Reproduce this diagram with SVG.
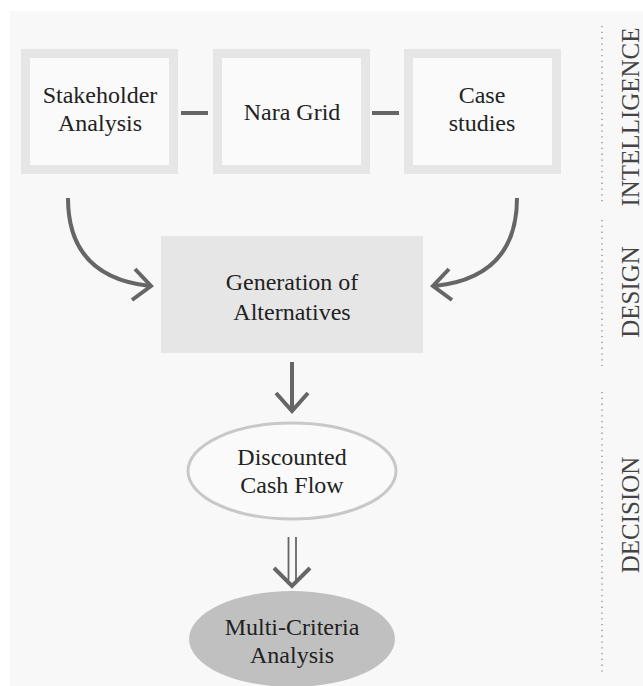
<svg xmlns="http://www.w3.org/2000/svg" width="643" height="686" viewBox="0 0 643 686">
<defs>
<style>
text{font-family:"Liberation Serif","Times New Roman",Times,"DejaVu Serif",serif}
.t{font-size:24px;fill:#222;text-anchor:middle}
.lab{font-size:25px;fill:#444;text-anchor:middle}
.box{fill:#fafafa;stroke:#e6e6e6;stroke-width:9}
.conn{stroke:#666;stroke-width:4;fill:none}
.dot{stroke:#888;stroke-width:1.3;stroke-dasharray:1.3 4.5}
</style>
</defs>
<rect x="0" y="0" width="643" height="686" fill="#ffffff"/>
<rect x="10" y="11" width="633" height="675" fill="#f8f8f8"/>
<g font-family="Liberation Serif, Times New Roman, serif">
<g id="stakeholder">
<rect class="box" x="25.5" y="53.5" width="148" height="116"/>
<text class="t" x="100" y="103" font-family="Liberation Serif">Stakeholder</text>
<text class="t" x="100" y="131" font-family="Liberation Serif">Analysis</text>
</g>
<g id="nara">
<rect class="box" x="217.5" y="53.5" width="148" height="116"/>
<text class="t" x="292" y="120" font-family="Liberation Serif">Nara Grid</text>
</g>
<g id="case">
<rect class="box" x="408.5" y="53.5" width="148" height="116"/>
<text class="t" x="482" y="103" font-family="Liberation Serif">Case</text>
<text class="t" x="482" y="131" font-family="Liberation Serif">studies</text>
</g>
<g id="generation">
<rect x="161" y="236" width="262" height="117" fill="#e6e6e6"/>
<text class="t" x="292" y="290" font-family="Liberation Serif">Generation of</text>
<text class="t" x="292" y="320" font-family="Liberation Serif">Alternatives</text>
</g>
<g id="dcf">
<ellipse cx="292" cy="471" rx="104" ry="48" fill="#fafafa" stroke="#c8c8c8" stroke-width="3"/>
<text class="t" x="292" y="465" font-family="Liberation Serif">Discounted</text>
<text class="t" x="292" y="493" font-family="Liberation Serif">Cash Flow</text>
</g>
<g id="mca">
<ellipse cx="292" cy="639" rx="103" ry="48" fill="#c0c0c0"/>
<text class="t" x="292" y="635" font-family="Liberation Serif">Multi-Criteria</text>
<text class="t" x="292" y="663" font-family="Liberation Serif">Analysis</text>
</g>
</g>
<g id="connectors">
<line class="conn" x1="181" y1="113" x2="208" y2="113"/>
<line class="conn" x1="372" y1="113" x2="399" y2="113"/>
<path class="conn" d="M68 198 C68 250 95 280 150 286"/>
<path class="conn" d="M135 269 L151 286 L132 300"/>
<path class="conn" d="M517 198 C517 250 490 280 435 286"/>
<path class="conn" d="M449 269 L433 286 L452 300"/>
<line class="conn" x1="292" y1="362" x2="292" y2="410"/>
<path class="conn" d="M276 393 L292 411 L308 393"/>
<line stroke="#666" stroke-width="1.8" x1="288.5" y1="537" x2="288.5" y2="580"/>
<line stroke="#666" stroke-width="1.8" x1="296" y1="537" x2="296" y2="580"/>
<path class="conn" d="M274 568 L292 586 L310 568"/>
</g>
<g id="labels">
<line class="dot" x1="602" y1="26" x2="602" y2="204"/>
<line class="dot" x1="602" y1="220" x2="602" y2="366"/>
<line class="dot" x1="602" y1="392" x2="602" y2="672"/>
<text class="lab" font-family="Liberation Serif" transform="translate(639 117) rotate(-90)">INTELLIGENCE</text>
<text class="lab" font-family="Liberation Serif" transform="translate(639 292) rotate(-90)">DESIGN</text>
<text class="lab" font-family="Liberation Serif" transform="translate(639 515) rotate(-90)">DECISION</text>
</g>
</svg>
